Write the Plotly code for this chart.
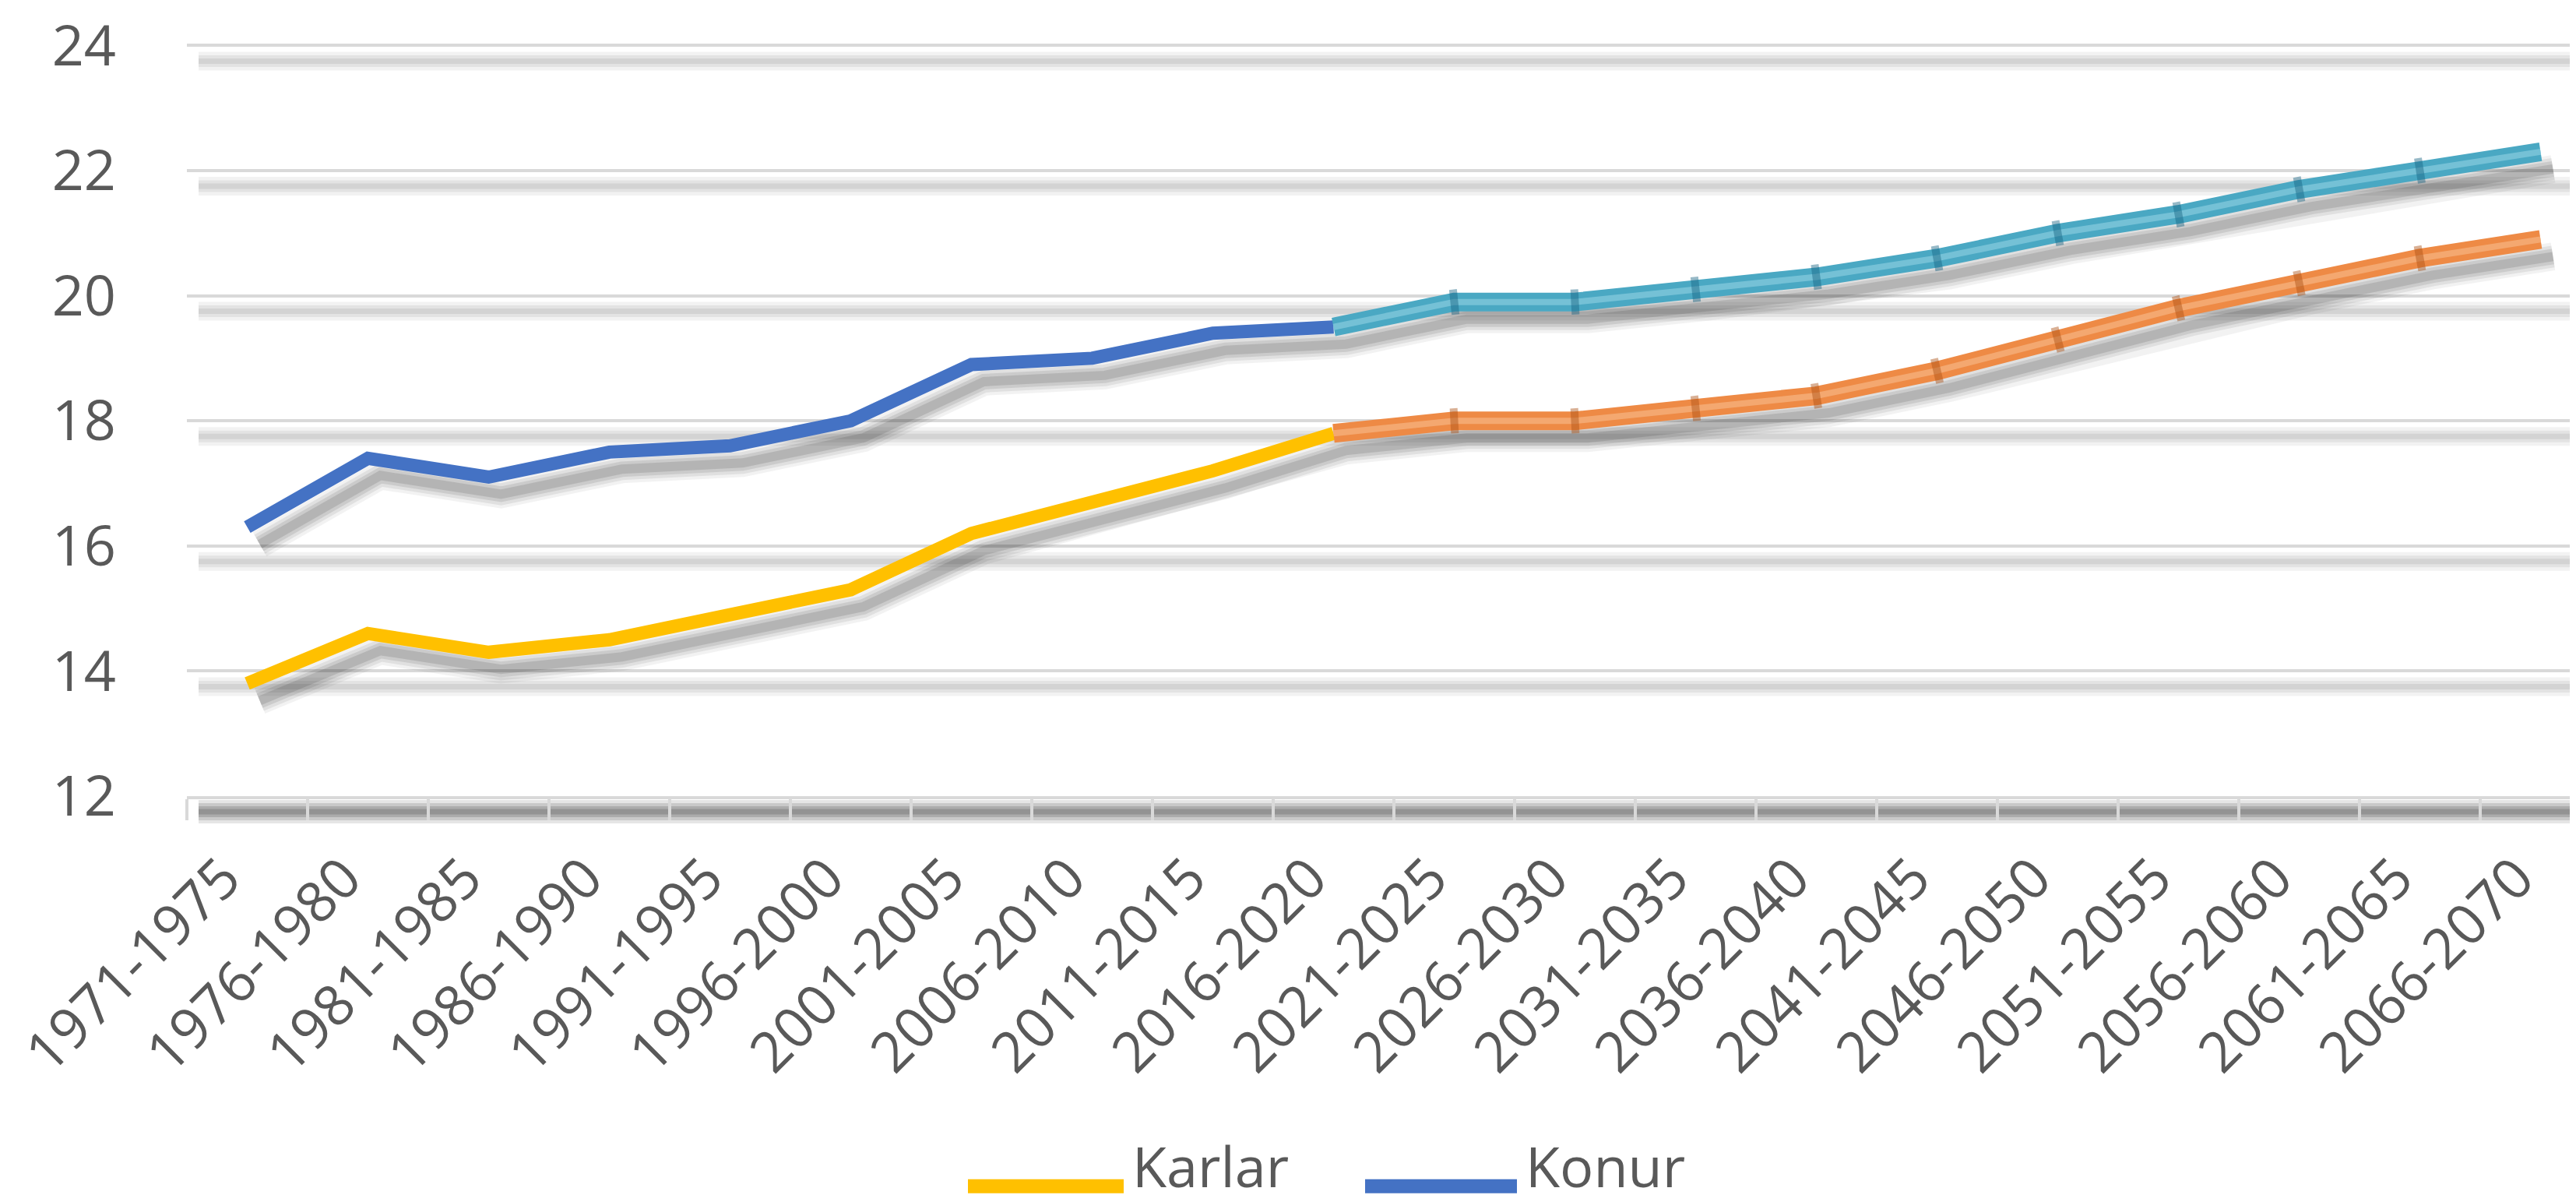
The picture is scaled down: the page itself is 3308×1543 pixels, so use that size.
import math
import plotly.graph_objects as go

# ---------------- data ----------------
periods = ["1971-1975", "1976-1980", "1981-1985", "1986-1990", "1991-1995",
           "1996-2000", "2001-2005", "2006-2010", "2011-2015", "2016-2020",
           "2021-2025", "2026-2030", "2031-2035", "2036-2040", "2041-2045",
           "2046-2050", "2051-2055", "2056-2060", "2061-2065", "2066-2070"]
karlar = [13.8, 14.6, 14.3, 14.5, 14.9, 15.3, 16.2, 16.7, 17.2, 17.8,
          18.0, 18.0, 18.2, 18.4, 18.8, 19.3, 19.8, 20.2, 20.6, 20.9]
konur = [16.3, 17.4, 17.1, 17.5, 17.6, 18.0, 18.9, 19.0, 19.4, 19.5,
         19.9, 19.9, 20.1, 20.3, 20.6, 21.0, 21.3, 21.7, 22.0, 22.3]
last_observed = 9          # index of 2016-2020, projection starts after it
y_ticks = [12, 14, 16, 18, 20, 22, 24]
series_names = ["Karlar", "Konur"]
series_values = [karlar, konur]

# ---------------- style ----------------
hist_colors = ["#FFC000", "#4472C4"]
proj_body = ["#EE8A45", "#4AA8C3"]
proj_light = ["#F8BD8E", "#92D3E4"]
proj_joint = ["rgba(170,80,20,0.45)", "rgba(25,100,130,0.45)"]
text_color = "#595959"
grid_color = "#D9D9D9"
FONT = "Open Sans"

W, H = 3308, 1543
L_PX = 232
TOP_TICK_PX = 50          # pixel row of the highest gridline
AXIS_PX = 1014            # pixel row of the category axis
CAT_PX = 155.0
PLOT_W = W - L_PX
UNIT_PX = (AXIS_PX - TOP_TICK_PX) / (y_ticks[-1] - y_ticks[0])

y_pad = 0.03
y_range = [y_ticks[0], y_ticks[-1] + y_pad]
T_PX = TOP_TICK_PX - y_pad * UNIT_PX
PLOT_H = AXIS_PX - T_PX

x_range = [-0.5, -0.5 + PLOT_W / CAT_PX]

# shadow offset (pixels)
SDX, SDY = 16, 22
x_range_sh = [x_range[0] - SDX / CAT_PX, x_range[1] - SDX / CAT_PX]
y_range_sh = [y_range[0] + SDY / UNIT_PX, y_range[1] + SDY / UNIT_PX]

fig = go.Figure()

# ---- soft shadows of the series (main, hidden axes, offset ranges) ----
shadow_layers = [(36, 0.05), (28, 0.07), (20, 0.09), (12, 0.11)]
for vals in series_values:
    for w, a in shadow_layers:
        fig.add_trace(go.Scatter(
            x=periods, y=vals, mode="lines", xaxis="x", yaxis="y",
            line=dict(color=f"rgba(0,0,0,{a})", width=w),
            hoverinfo="skip", showlegend=False))

# ---- real series (overlay, visible axes) ----
for i, (name, vals) in enumerate(zip(series_names, series_values)):
    k = last_observed
    fig.add_trace(go.Scatter(
        x=periods[:k + 1], y=vals[:k + 1], mode="lines", name=name,
        xaxis="x2", yaxis="y2",
        line=dict(color=hist_colors[i], width=17),
        showlegend=False))
    fig.add_trace(go.Scatter(
        x=periods[k:], y=vals[k:], mode="lines", name=name + " (projeksiyon)",
        xaxis="x2", yaxis="y2",
        line=dict(color=proj_body[i], width=24),
        showlegend=False))
    fig.add_trace(go.Scatter(
        x=periods[k:], y=vals[k:], mode="lines", xaxis="x2", yaxis="y2",
        line=dict(color=proj_light[i], width=8),
        opacity=0.6, hoverinfo="skip", showlegend=False))
    jx, jy, ja = [], [], []
    for j in range(k + 1, len(vals) - 1):
        slope_px = (vals[j + 1] - vals[j - 1]) / 2 * UNIT_PX / CAT_PX
        jx.append(periods[j])
        jy.append(vals[j])
        ja.append(-math.degrees(math.atan(slope_px)))
    fig.add_trace(go.Scatter(
        x=jx, y=jy, mode="markers", xaxis="x2", yaxis="y2",
        marker=dict(symbol="line-ns", size=23, angle=ja,
                    line=dict(color=proj_joint[i], width=10)),
        hoverinfo="skip", showlegend=False))

shapes = []
# ---- gridline shadows ----
g_off = 20 / UNIT_PX
for t in y_ticks[1:]:
    for w, a in [(24, 0.05), (15, 0.06), (7, 0.07)]:
        shapes.append(dict(type="line", xref="paper", yref="y2",
                           x0=15 / PLOT_W, x1=1, y0=t - g_off, y1=t - g_off,
                           line=dict(color=f"rgba(0,0,0,{a})", width=w),
                           layer="below"))
# ---- category axis shadow ----
a_off = 20 / PLOT_H
for w, a in [(30, 0.10), (22, 0.12), (14, 0.14), (7, 0.14)]:
    shapes.append(dict(type="line", xref="paper", yref="paper",
                       x0=15 / PLOT_W, x1=1, y0=-a_off, y1=-a_off,
                       line=dict(color=f"rgba(0,0,0,{a})", width=w),
                       layer="below"))

# ---- custom legend (long swatches like the original) ----
legend_line_px = 1515
legend_text_px = 1488
legend_items = [  # (swatch start px, swatch end px, text start px)
    (1235, 1435, 1445),
    (1745, 1940, 1950),
]
annotations = []
for (x0p, x1p, txp), name, col in zip(legend_items, series_names, hist_colors):
    ly = (AXIS_PX - legend_line_px) / PLOT_H
    shapes.append(dict(type="line", xref="paper", yref="paper",
                       x0=(x0p - L_PX) / PLOT_W, x1=(x1p - L_PX) / PLOT_W,
                       y0=ly, y1=ly, line=dict(color=col, width=18)))
    annotations.append(dict(xref="paper", yref="paper",
                            x=(txp - L_PX) / PLOT_W,
                            y=(AXIS_PX - legend_text_px) / PLOT_H,
                            xanchor="left", yanchor="middle", showarrow=False,
                            borderpad=0,
                            text=name, font=dict(family=FONT, size=72,
                                                 color=text_color)))

fig.update_layout(
    width=W, height=H,
    margin=dict(l=L_PX, r=0, t=T_PX, b=H - AXIS_PX, pad=0),
    paper_bgcolor="white", plot_bgcolor="white",
    showlegend=False,
    font=dict(family=FONT, color=text_color),
    xaxis=dict(type="category", categoryorder="array", categoryarray=periods,
               range=x_range_sh, visible=False, fixedrange=True),
    yaxis=dict(range=y_range_sh, visible=False, fixedrange=True),
    xaxis2=dict(type="category", categoryorder="array", categoryarray=periods,
                overlaying="x", anchor="y2", side="bottom",
                range=x_range, showgrid=False, zeroline=False,
                showline=True, linecolor=grid_color, linewidth=4,
                ticks="outside", tickson="boundaries", ticklen=27,
                tickwidth=4, tickcolor=grid_color, tickangle=-45,
                ticklabelstandoff=30, ticklabelshift=-30,
                ticklabeloverflow="allow",
                tickfont=dict(family=FONT, size=72, color=text_color)),
    yaxis2=dict(overlaying="y", anchor="x2", side="left",
                range=y_range, tickmode="array", tickvals=y_ticks,
                ticktext=[str(t) for t in y_ticks],
                showgrid=True, gridcolor=grid_color, gridwidth=4,
                zeroline=False, showline=False, ticks="",
                ticklabelstandoff=90, ticklabeloverflow="allow",
                tickfont=dict(family=FONT, size=72, color=text_color)),
    shapes=shapes, annotations=annotations,
)

fig.write_html("out.html")
